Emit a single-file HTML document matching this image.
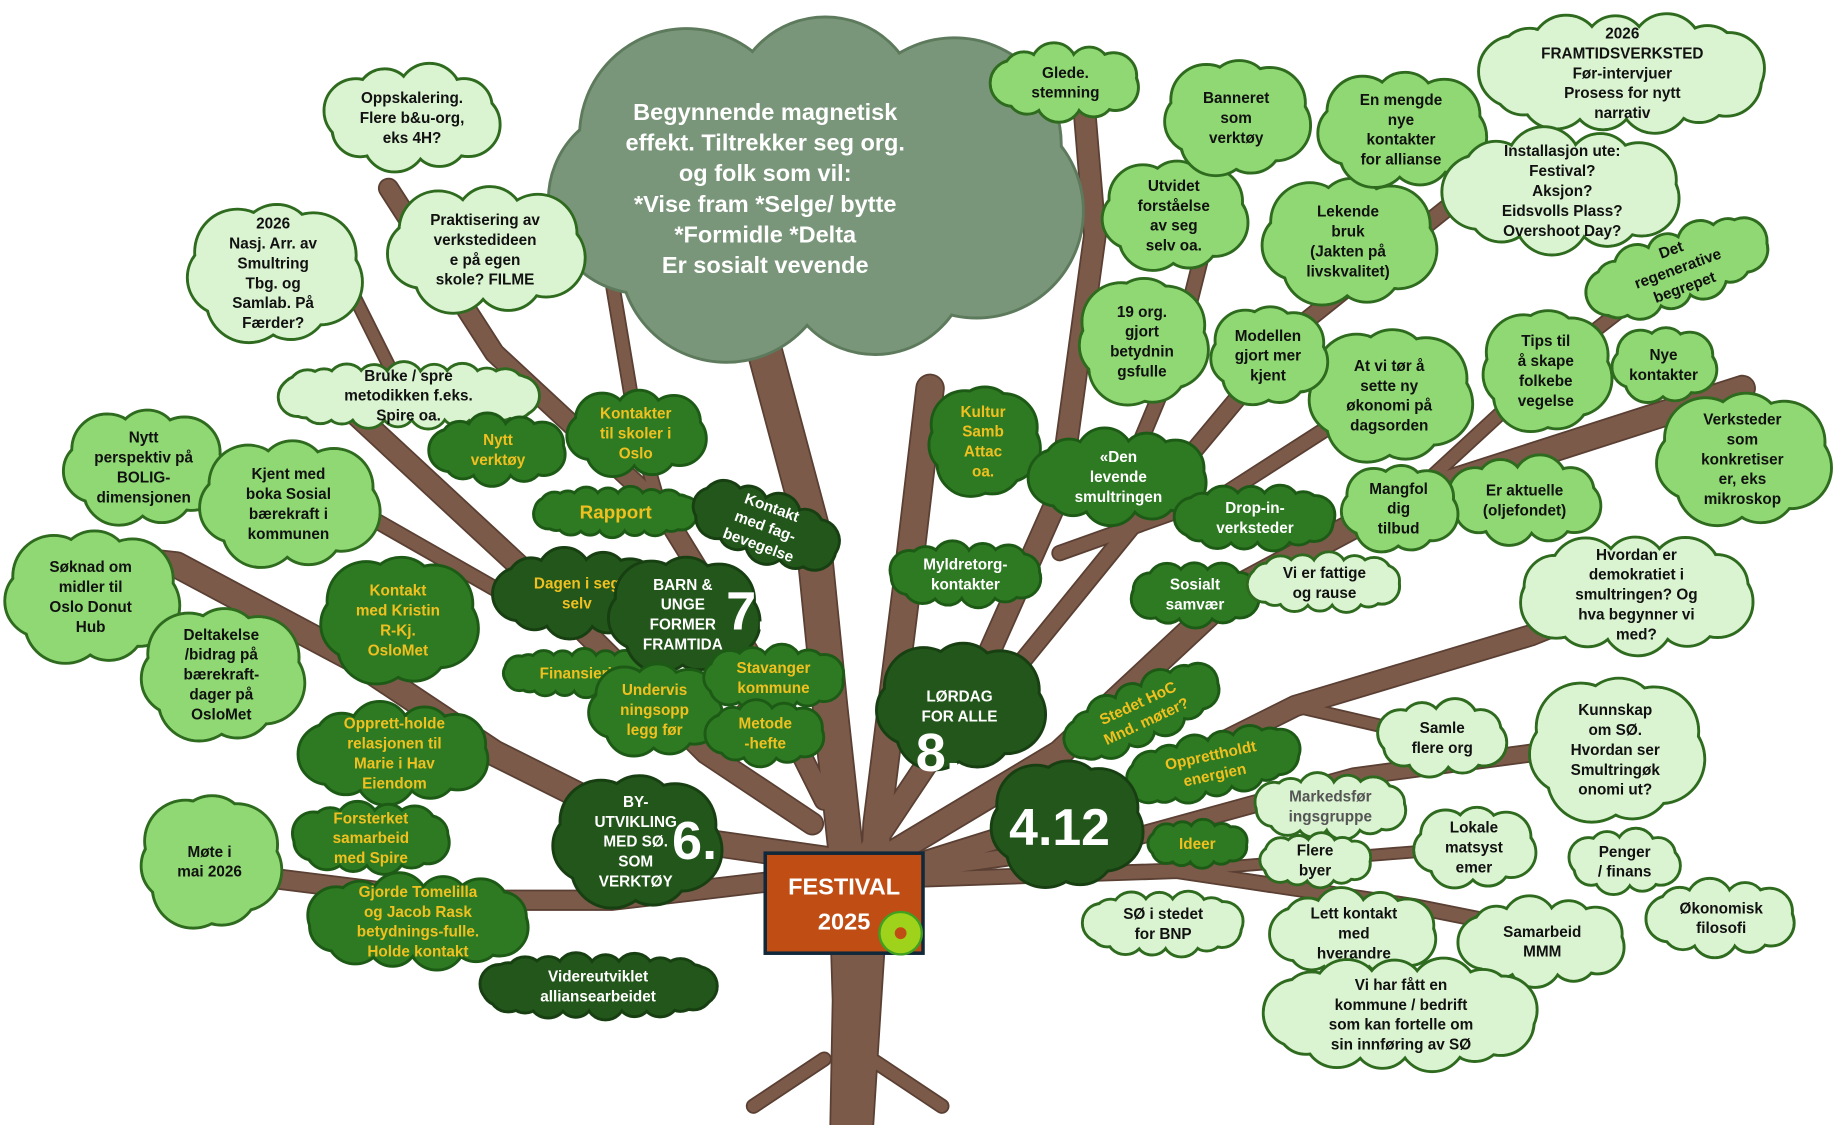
<!DOCTYPE html>
<html><head><meta charset="utf-8"><style>
html,body{margin:0;padding:0;background:#fff;}
svg{display:block;}
text{font-family:"Liberation Sans",sans-serif;font-weight:bold;}
</style></head><body>
<svg id="s" width="1846" height="1125" viewBox="0 0 1568 956" preserveAspectRatio="none" xmlns="http://www.w3.org/2000/svg">
<g id="br"></g><g id="cl"></g>
<g>
<rect x="650" y="725" width="134" height="85" fill="#c04e14" stroke="#10283a" stroke-width="3"/>
<text x="717" y="760" fill="#fff" font-size="20" text-anchor="middle">FESTIVAL</text>
<text x="717" y="790" fill="#fff" font-size="20" text-anchor="middle">2025</text>
<circle cx="765" cy="793" r="18" fill="#9fd21a" stroke="#3fa020" stroke-width="2"/>
<circle cx="765" cy="793" r="5" fill="#c04e14"/>
</g>
</svg>
<script>
var NS="http://www.w3.org/2000/svg";
var br=document.getElementById('br'),cl=document.getElementById('cl');
function el(p,t,a){var e=document.createElementNS(NS,t);for(var k in a)e.setAttribute(k,a[k]);p.appendChild(e);return e;}
var B=[
[[720,956],[722,850],[718,720],[705,600],[690,450],[650,300]],28,
[[730,956],[740,800],[745,700],[770,500],[790,330]],22,
[[700,730],[560,710],[420,640],[300,560],[150,480],[60,470]],20,
[[690,745],[520,765],[380,765],[180,740]],15,
[[690,700],[600,640],[520,560],[440,480],[300,350]],17,
[[700,680],[640,560],[560,430],[420,300],[330,160]],15,
[[740,720],[820,600],[900,420],[930,200],[920,80]],17,
[[750,730],[900,640],[1050,500],[1200,420],[1480,330]],20,
[[760,740],[920,690],[1100,600],[1300,540],[1400,500]],16,
[[760,742],[950,715],[1150,660],[1300,640]],13,
[[760,748],[1000,740],[1200,770],[1350,800]],11,
[[870,560],[1000,400],[1100,280],[1250,160]],13,
[[900,470],[1040,420],[1180,330]],11,
[[950,420],[1000,300],[1040,140]],11,
[[1200,420],[1330,300],[1420,230]],10,
[[420,500],[280,420],[120,400]],11,
[[350,350],[300,250],[230,230]],9,
[[560,430],[540,360],[520,240]],10,
[[700,900],[640,940]],10,[[740,900],[800,940]],10,
[[600,640],[650,580]],8,[[1100,600],[1230,630]],9,[[1000,740],[1250,720]],8
];
for(var i=0;i<B.length;i+=2){var p=B[i],d="M"+p.map(function(q){return q.join(",")}).join(" L");
el(br,'path',{d:d,fill:'none',stroke:'#5a3f33','stroke-width':B[i+1]+3,'stroke-linecap':'round','stroke-linejoin':'round'});}
for(var i=0;i<B.length;i+=2){var p=B[i],d="M"+p.map(function(q){return q.join(",")}).join(" L");
el(br,'path',{d:d,fill:'none',stroke:'#7c5a4a','stroke-width':B[i+1],'stroke-linecap':'round','stroke-linejoin':'round'});}
var T={P:['#daf3d1','#2f6b1f','#111'],M:['#8fd873','#2f6b1f','#111'],D:['#2e7a22','#1d5a16','#f0c020'],DW:['#2e7a22','#1d5a16','#fff'],K:['#22561a','#173f12','#fff'],KY:['#22561a','#173f12','#f0c020'],G:['#7a967a','#5d7a5c','#fff']};
function cloud(cx,cy,w,h,t,lines,fs,rot,tc,txo){
 var c=T[t];var g=el(cl,'g',{transform:'rotate('+(rot||0)+' '+cx+' '+cy+')'});
 var r=Math.min(w,h)*0.28;var a=w/2-r,b=h/2-r;var per=2*Math.PI*Math.sqrt((a*a+b*b)/2);
 var n=Math.max(7,Math.round(per/(r*1.2)));var cs=[];
 for(var k=0;k<n;k++){var an=2*Math.PI*k/n+0.3;cs.push([cx+a*Math.cos(an),cy+b*Math.sin(an),r*(k%2?0.95:1.08)]);}
 cs.forEach(function(q){el(g,'circle',{cx:q[0],cy:q[1],r:q[2],fill:c[0],stroke:c[1],'stroke-width':2.5});});
 cs.forEach(function(q){el(g,'circle',{cx:q[0],cy:q[1],r:q[2]-1.3,fill:c[0]});});
 el(g,'ellipse',{cx:cx,cy:cy,rx:Math.max(a,4)+r*0.3,ry:Math.max(b,4)+r*0.3,fill:c[0]});
 fs=fs||13;var lh=fs*1.3;var y0=cy-(lines.length-1)*lh/2+fs*0.35;
 lines.forEach(function(L,j){var tx=el(g,'text',{x:cx+(txo||0),y:y0+j*lh,'font-size':fs,'text-anchor':'middle',fill:tc||c[2]});tx.textContent=L;});
 return g;}
function big(x,y,s,fs){var t=el(cl,'text',{x:x,y:y,'font-size':fs||46,'text-anchor':'middle',fill:'#fff'});t.textContent=s;}
cloud(690,160,460,300,'G',['Begynnende magnetisk','effekt. Tiltrekker seg org.','og folk som vil:','*Vise fram *Selge/ bytte','*Formidle *Delta','Er sosialt vevende'],20,0,null,-40);
cloud(350,100,150,90,'P',['Oppskalering.','Flere b&u-org,','eks 4H?']);
cloud(232,232,150,120,'P',['2026','Nasj. Arr. av','Smultring','Tbg. og','Samlab. På','Færder?']);
cloud(412,212,170,110,'P',['Praktisering av','verkstedideen','e på egen','skole? FILME']);
cloud(347,336,220,55,'P',['Bruke / spre','metodikken f.eks.','Spire oa.']);
cloud(122,397,140,100,'M',['Nytt','perspektiv på','BOLIG-','dimensjonen']);
cloud(245,428,155,110,'M',['Kjent med','boka Sosial','bærekraft i','kommunen']);
cloud(77,507,150,115,'M',['Søknad om','midler til','Oslo Donut','Hub']);
cloud(188,573,140,115,'M',['Deltakelse','/bidrag på','bærekraft-','dager på','OsloMet']);
cloud(423,382,115,60,'D',['Nytt','verktøy']);
cloud(540,368,120,75,'D',['Kontakter','til skoler i','Oslo']);
cloud(523,435,140,42,'D',['Rapport'],16);
cloud(650,447,130,60,'K',['Kontakt','med fag-','bevegelse'],13,20);
cloud(338,527,135,110,'D',['Kontakt','med Kristin','R-Kj.','OsloMet'],13,0,'#f0c020');
cloud(490,504,140,75,'KY',['Dagen i seg','selv']);
cloud(497,572,140,40,'D',['Finansiering']);
cloud(580,522,130,100,'K',['BARN &','UNGE','FORMER','FRAMTIDA']);big(636,535,'7.');
cloud(556,603,115,80,'D',['Undervis','ningsopp','legg før']);
cloud(657,576,120,55,'D',['Stavanger','kommune']);
cloud(650,623,100,55,'D',['Metode','-hefte']);
cloud(335,640,160,85,'D',['Opprett-holde','relasjonen til','Marie i Hav','Eiendom']);
cloud(315,712,135,60,'D',['Forsterket','samarbeid','med Spire']);
cloud(355,783,190,80,'D',['Gjorde Tomelilla','og Jacob Rask','betydnings-fulle.','Holde kontakt']);
cloud(178,732,120,115,'M',['Møte i','mai 2026']);
cloud(540,715,145,115,'K',['BY-','UTVIKLING','MED SØ.','SOM','VERKTØY']);big(590,730,'6.');
cloud(508,838,200,55,'K',['Videreutviklet','alliansearbeidet']);
cloud(815,600,145,110,'K',['LØRDAG','FOR ALLE']);big(797,655,'8.');
cloud(835,375,95,95,'D',['Kultur','Samb','Attac','oa.']);
cloud(820,488,130,55,'DW',['Myldretorg-','kontakter']);
cloud(905,70,125,65,'M',['Glede.','stemning']);
cloud(950,405,150,80,'DW',['«Den','levende','smultringen']);
cloud(1066,440,135,55,'DW',['Drop-in-','verksteder']);
cloud(1015,505,110,55,'DW',['Sosialt','samvær']);
cloud(1125,495,130,50,'P',['Vi er fattige','og rause']);
cloud(970,605,140,55,'D',['Stedet HoC','Mnd. møter?'],13,-25);
cloud(1030,650,150,55,'D',['Opprettholdt','energien'],13,-12);
cloud(905,700,130,110,'K',[''],13);big(900,718,'4.12',44);
cloud(1017,717,85,40,'D',['Ideer']);
cloud(1130,685,130,55,'P',['Markedsfør','ingsgruppe'],13,0,'#555');
cloud(1117,731,95,45,'P',['Flere','byer']);
cloud(1225,627,110,65,'P',['Samle','flere org']);
cloud(1252,720,105,70,'P',['Lokale','matsyst','emer']);
cloud(988,785,135,55,'P',['SØ i stedet','for BNP']);
cloud(1150,793,140,75,'P',['Lett kontakt','med','hverandre']);
cloud(1310,800,140,75,'P',['Samarbeid','MMM']);
cloud(1190,862,230,95,'P',['Vi har fått en','kommune / bedrift','som kan fortelle om','sin innføring av SØ']);
cloud(1462,780,125,65,'P',['Økonomisk','filosofi']);
cloud(1380,732,95,55,'P',['Penger','/ finans']);
cloud(1372,637,150,125,'P',['Kunnskap','om SØ.','Hvordan ser','Smultringøk','onomi ut?']);
cloud(1390,505,200,100,'P',['Hvordan er','demokratiet i','smultringen? Og','hva begynner vi','med?']);
cloud(1480,390,150,115,'M',['Verksteder','som','konkretiser','er, eks','mikroskop']);
cloud(1295,425,130,75,'M',['Er aktuelle','(oljefondet)']);
cloud(1188,432,100,75,'M',['Mangfol','dig','tilbud']);
cloud(1413,310,90,65,'M',['Nye','kontakter']);
cloud(1313,315,110,105,'M',['Tips til','å skape','folkebe','vegelse']);
cloud(1180,336,140,115,'M',['At vi tør å','sette ny','økonomi på','dagsorden']);
cloud(1077,302,100,85,'M',['Modellen','gjort mer','kjent']);
cloud(970,290,110,110,'M',['19 org.','gjort','betydnin','gsfulle']);
cloud(997,183,125,95,'M',['Utvidet','forståelse','av seg','selv oa.']);
cloud(1050,100,125,100,'M',['Banneret','som','verktøy']);
cloud(1145,205,150,110,'M',['Lekende','bruk','(Jakten på','livskvalitet)']);
cloud(1190,110,145,100,'M',['En mengde','nye','kontakter','for allianse']);
cloud(1378,62,240,100,'P',['2026','FRAMTIDSVERKSTED','Før-intervjuer','Prosess for nytt','narrativ']);
cloud(1327,162,200,105,'P',['Installasjon ute:','Festival?','Aksjon?','Eidsvolls Plass?','Overshoot Day?']);
cloud(1425,228,160,65,'M',['Det','regenerative','begrepet'],13,-20);
</script>
</body></html>
